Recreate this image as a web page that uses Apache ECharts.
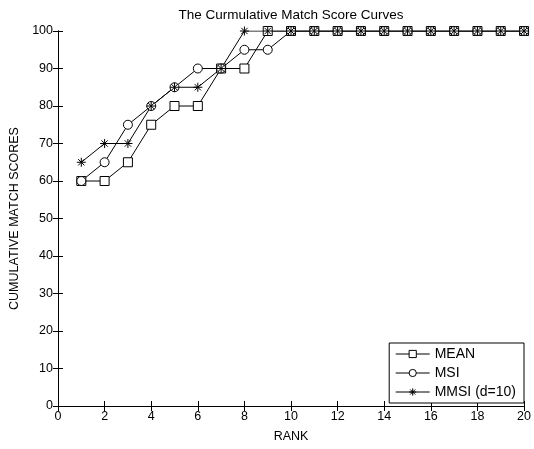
<!DOCTYPE html>
<html>
<head>
<meta charset="utf-8">
<script src="https://cdn.jsdelivr.net/npm/echarts@6/dist/echarts.min.js"></script>
<style>
  html, body { margin: 0; padding: 0; background: #fff; }
  #chart { width: 534px; height: 449px; }
</style>
</head>
<body>
<div id="chart"></div>
<script>
const ranks = [1, 2, 3, 4, 5, 6, 7, 8, 9, 10, 11, 12, 13, 14, 15, 16, 17, 18, 19, 20];
const meanScores = [60, 60, 65, 75, 80, 80, 90, 90, 100, 100, 100, 100, 100, 100, 100, 100, 100, 100, 100, 100];
const msiScores = [60, 65, 75, 80, 85, 90, 90, 95, 95, 100, 100, 100, 100, 100, 100, 100, 100, 100, 100, 100];
const mmsiScores = [65, 70, 70, 80, 85, 85, 90, 100, 100, 100, 100, 100, 100, 100, 100, 100, 100, 100, 100, 100];
const seriesNames = ['MEAN', 'MSI', 'MMSI (d=10)'];

const font = 'Liberation Sans, Arial, sans-serif';
const starPath = 'path://M0,5L10,5M5,0L5,10M1.5,1.5L8.5,8.5M1.5,8.5L8.5,1.5';

function pairs(ys) {
  return ranks.map((r, i) => [r, ys[i]]);
}

function lineSeries(name, ys, symbol, size) {
  return {
    name: name,
    type: 'line',
    data: pairs(ys),
    symbol: symbol,
    symbolSize: size,
    showAllSymbol: true,
    lineStyle: { color: '#000', width: 1 },
    itemStyle: { color: '#fff', borderColor: '#000', borderWidth: 1 },
    emphasis: { disabled: true }
  };
}

let chart = echarts.init(document.getElementById('chart'));
chart.setOption({
  animation: false,
  title: {
    text: 'The Curmulative Match Score Curves',
    left: 286,
    top: 3,
    textAlign: 'center',
    textStyle: { fontFamily: font, fontSize: 13.5, fontWeight: 'normal', color: '#000' }
  },
  grid: { left: 58, right: 7, top: 31, bottom: 43 },
  legend: {
    orient: 'vertical',
    right: 10,
    bottom: 46,
    data: seriesNames,
    itemWidth: 34,
    itemHeight: 9,
    itemGap: 5,
    padding: [4, 8, 4, 6],
    borderColor: '#000',
    borderWidth: 1,
    backgroundColor: '#fff',
    lineStyle: { width: 1, color: '#000' },
    itemStyle: { color: '#fff', borderColor: '#000', borderWidth: 1 },
    textStyle: { fontFamily: font, fontSize: 14, color: '#000' }
  },
  xAxis: [
    {
      type: 'value',
      min: 0, max: 20, interval: 2,
      name: 'RANK',
      nameLocation: 'middle',
      nameGap: 24,
      nameTextStyle: { fontFamily: font, fontSize: 12.5, color: '#000' },
      axisLine: { lineStyle: { color: '#000', width: 1 } },
      axisTick: { inside: true, length: 5, lineStyle: { color: '#000' } },
      axisLabel: { fontFamily: font, fontSize: 12.5, color: '#000', margin: 4 },
      splitLine: { show: false }
    },
    {
      type: 'value', position: 'top',
      min: 0, max: 20, interval: 2,
      axisLine: { show: true, lineStyle: { color: '#000', width: 1 } },
      axisTick: { inside: true, length: 5, lineStyle: { color: '#000' } },
      axisLabel: { show: false },
      splitLine: { show: false }
    }
  ],
  yAxis: [
    {
      type: 'value',
      min: 0, max: 100, interval: 10,
      name: 'CUMULATIVE MATCH SCORES',
      nameLocation: 'middle',
      nameGap: 37,
      nameTextStyle: { fontFamily: font, fontSize: 12.5, color: '#000' },
      axisLine: { show: true, lineStyle: { color: '#000', width: 1 } },
      axisTick: { show: true, inside: true, length: 5, lineStyle: { color: '#000' } },
      axisLabel: { fontFamily: font, fontSize: 12.5, color: '#000', margin: 5 },
      splitLine: { show: false }
    },
    {
      type: 'value', position: 'right',
      min: 0, max: 100, interval: 10,
      axisLine: { show: true, lineStyle: { color: '#000', width: 1 } },
      axisTick: { show: true, inside: true, length: 5, lineStyle: { color: '#000' } },
      axisLabel: { show: false },
      splitLine: { show: false }
    }
  ],
  series: [
    lineSeries(seriesNames[0], meanScores, 'rect', 9),
    lineSeries(seriesNames[1], msiScores, 'circle', 9),
    lineSeries(seriesNames[2], mmsiScores, starPath, 9)
  ]
});
</script>
</body>
</html>
